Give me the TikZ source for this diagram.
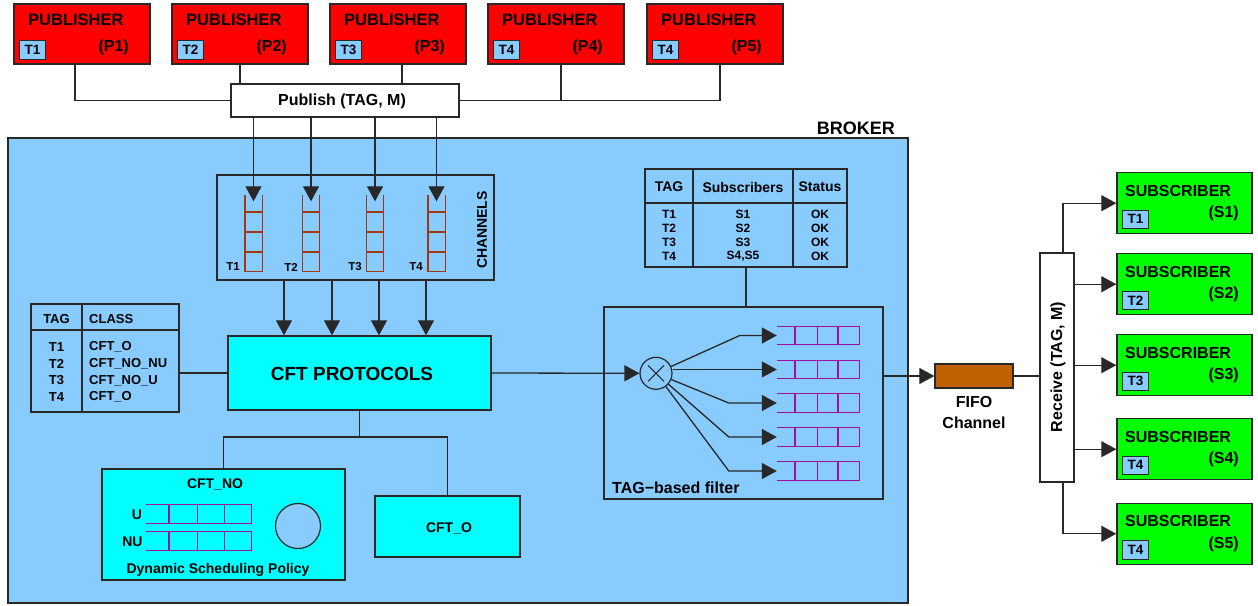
\documentclass[tikz,border=0pt]{standalone}
\usepackage{fontspec}
\setmainfont{Liberation Sans}
\usetikzlibrary{arrows.meta,calc}

\definecolor{edge}{HTML}{282828}
\definecolor{pubred}{HTML}{FF0000}
\definecolor{skyfill}{HTML}{88CCFF}
\definecolor{cftcyan}{HTML}{00FFFF}
\definecolor{subgreen}{HTML}{00FF00}
\definecolor{fifobrown}{HTML}{C06000}
\definecolor{chanbrown}{HTML}{A03810}
\definecolor{qmagenta}{HTML}{A010A0}

\newcommand\txs[1]{\fontsize{#1pt}{#1pt}\selectfont\bfseries}

% open-ended queue: top, bottom and right side plus three dividers
\newcommand\drawhq[1]{%
  \draw[hq] (#1.north west) -- (#1.north east) -- (#1.south east) -- (#1.south west);
  \foreach \f in {0.22,0.49,0.744}
    \draw[hq] ($(#1.north west)!\f!(#1.north east)$) -- ($(#1.south west)!\f!(#1.south east)$);
}

\begin{document}
\begin{tikzpicture}[x=1pt,y=-1pt,
  box/.style={draw=edge, line width=1.4pt, inner sep=0pt, rectangle},
  slot/.style={inner sep=0pt, minimum width=#1, minimum height=18pt},
  wire/.style={draw=edge, line width=1.3pt},
  arr/.style={wire, -{Triangle[length=15pt,width=16pt]}},
  hq/.style={draw=qmagenta, line width=1.3pt},
  cq/.style={draw=chanbrown, line width=1.4pt},
  lbl/.style={inner sep=0pt, font=\txs{#1}},
  lbl/.default=16,
  badge/.style={box, line width=1.1pt, fill=skyfill, minimum width=26pt, minimum height=18.5pt, font=\txs{13.5}},
]
\useasboundingbox (0,0) rectangle (1258,605);

% ---------------- broker frame ----------------
\node[box, fill=skyfill, minimum width=900pt, minimum height=465pt] (broker) at (458,370.5) {};
\node[lbl=18, anchor=east] (brokerlbl) at (895,128) {BROKER};

% ---------------- publishers ----------------
\foreach \i/\l/\t in {1/14/T1, 2/172/T2, 3/330/T3, 4/488/T4, 5/647/T4} {
  \node[box, fill=pubred, minimum width=136pt, minimum height=60pt] (pub\i) at (\l+68,34) {};
  \node[lbl=16.5, anchor=west] (pubname\i) at (\l+14,20) {PUBLISHER};
  \node[lbl, anchor=east] (pubid\i) at (\l+115,47) {(P\i)};
  \node[badge] (pubtag\i) at (\l+18.5,50) {\t};
}

\node[box, fill=white, minimum width=228pt, minimum height=33pt] (publish) at (345,100.5) {};
\node[lbl] (publishlbl) at (342,101) {Publish (TAG, M)};

\draw[wire] ([xshift=-7pt]pub1.south) |- (publish.west);
\draw[wire] (pub2.south) -- (pub2.south |- publish.north);
\draw[wire] ([xshift=4pt]pub3.south) -- ([xshift=4pt]pub3.south |- publish.north);
\draw[wire] ([xshift=5pt]pub4.south) |- (publish.east);
\draw[wire] ([xshift=5pt]pub5.south) |- (publish.east);

% ---------------- channels ----------------
\node[box, minimum width=277pt, minimum height=105pt] (channels) at (355.5,227.5) {};
\node[lbl=14, rotate=90] (chanlbl) at (482,230) {CHANNELS};
\foreach \i/\x/\lx in {1/253.5/233, 2/311/291, 3/375/355, 4/436.5/416} {
  \node[inner sep=0pt, minimum width=17pt, minimum height=76pt] (chq\i) at (\x,233) {};
  \draw[cq] (chq\i.north west) -- (chq\i.south west) -- (chq\i.south east) -- (chq\i.north east);
  \foreach \f in {0.224,0.487,0.75}
    \draw[cq] ($(chq\i.north west)!\f!(chq\i.south west)$) -- ($(chq\i.north east)!\f!(chq\i.south east)$);
  \node[lbl=11.5] (chqlbl\i) at (\lx,267) {T\i};
  \draw[arr] (publish.south -| chq\i.north) -- ([yshift=-6.5pt]chq\i.north);
}

% ---------------- CFT protocols ----------------
\node[box, fill=cftcyan, minimum width=263pt, minimum height=74pt] (cft) at (359.5,373) {};
\node[lbl=19] (cftlbl) at (352,374) {CFT PROTOCOLS};
\foreach \x in {284,332,379,426}
  \draw[arr] (channels.south -| \x,0) -- (cft.north -| \x,0);

% TAG / CLASS table
\node[box, minimum width=148pt, minimum height=108pt] (classtbl) at (105,358) {};
\draw[box] (82,304) -- (82,412);
\draw[box] (31,330) -- (179,330);
\node[lbl=13] (clh1) at (56.5,319) {TAG};
\node[lbl=13, anchor=west] (clh2) at (89,319) {CLASS};
\foreach \r/\t/\c in {0/T1/CFT\_O, 1/T2/CFT\_NO\_NU, 2/T3/CFT\_NO\_U, 3/T4/CFT\_O} {
  \node[lbl=13] (clt\r) at (56.5,347+16.7*\r) {\t};
  \node[lbl=13, anchor=west] (clc\r) at (89,347+16.7*\r) {\c};
}
\draw[wire] (cft.west -| classtbl.east) -- (cft.west);

% CFT_NO and CFT_O
\node[box, fill=cftcyan, minimum width=243pt, minimum height=111pt] (cftno) at (223.5,524.3) {};
\node[lbl=14] (cftnolbl) at (215,484) {CFT\_NO};
\node[slot=105pt] (uq) at (198.5,514) {};
\node[slot=105pt] (nuq) at (198.5,541) {};
\drawhq{uq}
\drawhq{nuq}
\node[lbl=14] (ulbl) at (137,515) {U};
\node[lbl=14] (nulbl) at (132.5,542) {NU};
\node[draw=edge, line width=1.2pt, fill=skyfill, circle, minimum size=45pt, inner sep=0pt] (sched) at (298,526) {};
\node[lbl=14] (schedlbl) at (218,569.5) {Dynamic Scheduling Policy};

\node[box, fill=cftcyan, minimum width=145pt, minimum height=61pt] (cfto) at (447.5,526.5) {};
\node[lbl=14] (cftolbl) at (449,528) {CFT\_O};

\coordinate (split) at (359.5,437);
\draw[wire] (cft.south) -- (split);
\draw[wire] (cftno.north) |- (split) -| (cfto.north);

% ---------------- subscriber table ----------------
\node[box, minimum width=202pt, minimum height=98pt] (subtbl) at (746,218) {};
\draw[box] (693,169) -- (693,267);
\draw[box] (793,169) -- (793,267);
\draw[box] (645,203) -- (847,203);
\node[lbl=14] (sth1) at (669,187) {TAG};
\node[lbl=14] (sth2) at (743,187) {Subscribers};
\node[lbl=14] (sth3) at (820,187) {Status};
\foreach \r/\t/\s in {0/T1/S1, 1/T2/S2, 2/T3/S3, 3/T4/{S4,S5}} {
  \node[lbl=12] (stt\r) at (669,214.3+13.9*\r) {\t};
  \node[lbl=12] (sts\r) at (743,214.3+13.9*\r) {\s};
  \node[lbl=12] (stk\r) at (820,214.3+13.9*\r) {OK};
}

% ---------------- TAG-based filter ----------------
\node[box, minimum width=279pt, minimum height=192pt] (filter) at (743.5,403) {};
\draw[wire] (subtbl.south) -- (subtbl.south |- filter.north);
\node[lbl, anchor=west] (filterlbl) at (612,488) {TAG−based filter};
\node[draw=edge, line width=1.2pt, circle, minimum size=32pt, inner sep=0pt] (xc) at (656,373.3) {};
\draw[wire, line width=1.1pt] ($(xc)+(-8,-8)$) -- ($(xc)+(8,8)$);
\draw[wire, line width=1.1pt] ($(xc)+(-8,8)$) -- ($(xc)+(8,-8)$);
\foreach \i/\y in {1/335.5, 2/369.5, 3/403, 4/437, 5/471} {
  \node[slot=82pt] (fq\i) at (818,\y) {};
  \drawhq{fq\i}
}
\draw[arr] (xc) -- ([xshift=-37pt]fq1.west) -- (fq1.west);
\draw[arr] (fq2.west -| xc.east) -- (fq2.west);
\draw[arr] (xc) -- ([xshift=-48pt]fq3.west) -- (fq3.west);
\draw[arr] (xc) -- ([xshift=-48pt]fq4.west) -- (fq4.west);
\draw[arr] (xc) -- ([xshift=-48pt]fq5.west) -- (fq5.west);
\draw[arr] (cft.east) -- (xc.west);

% ---------------- FIFO channel and receive ----------------
\node[box, fill=fifobrown, minimum width=78pt, minimum height=24pt] (fifo) at (974,376) {};
\node[lbl, align=center, font=\txs{16}\linespread{1.3}\selectfont] (fifolbl) at (974,412.5) {FIFO\\Channel};
\draw[arr] (fifo.west -| filter.east) -- (fifo.west);

\node[box, fill=white, minimum width=34pt, minimum height=229pt] (recv) at (1057,367.5) {};
\node[lbl, rotate=90] (recvlbl) at (1058,367) {Receive (TAG, M)};
\draw[wire] (fifo.east) -- (fifo.east -| recv.west);

% ---------------- subscribers ----------------
\foreach \i/\t/\y in {1/T1/172.7, 2/T2/253.7, 3/T3/334.7, 4/T4/418.7, 5/T4/503.3} {
  \node[box, fill=subgreen, minimum width=135pt, minimum height=61pt] (sub\i) at (1184.5,\y+30.5) {};
  \node[lbl, anchor=west] (subname\i) at (1125,\y+18) {SUBSCRIBER};
  \node[lbl, anchor=east] (subid\i) at (1239,\y+41) {(S\i)};
  \node[badge] (subtag\i) at (1135.5,\y+46.6) {\t};
}
\draw[arr] ([xshift=6pt]recv.north) |- (sub1.west);
\draw[arr] (sub2.west -| recv.east) -- (sub2.west);
\draw[arr] (sub3.west -| recv.east) -- (sub3.west);
\draw[arr] (sub4.west -| recv.east) -- (sub4.west);
\draw[arr] ([xshift=6pt]recv.south) |- (sub5.west);
\end{tikzpicture}
\end{document}
